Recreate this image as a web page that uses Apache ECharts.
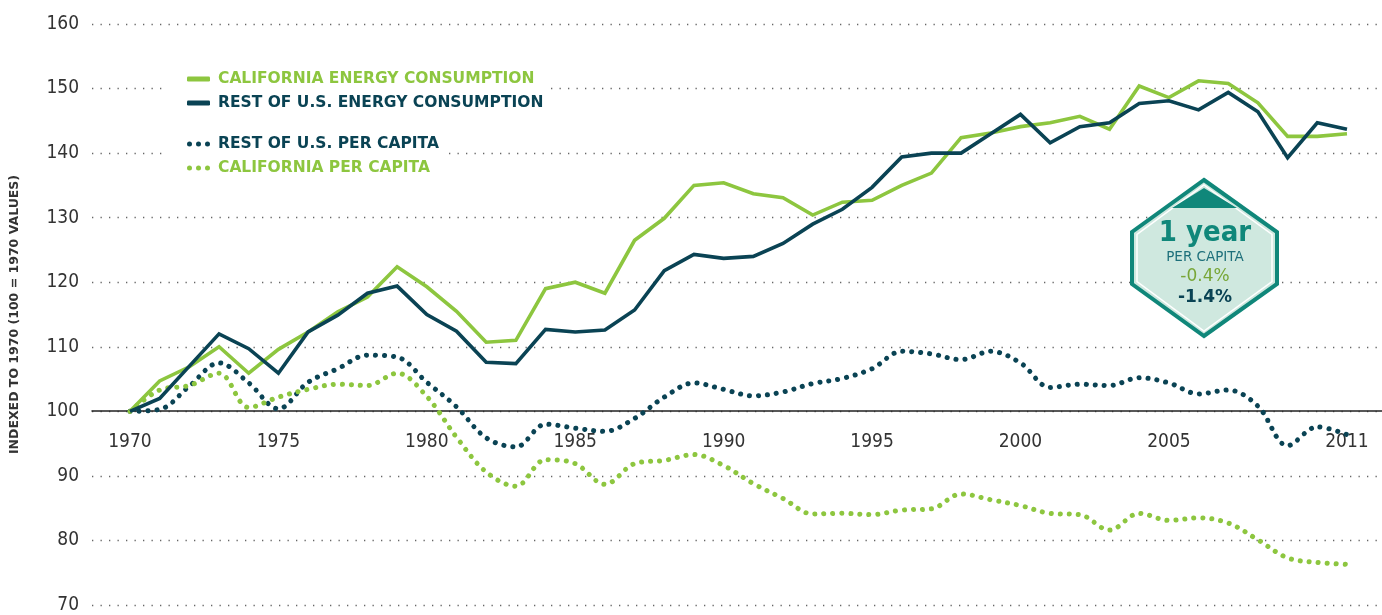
<!DOCTYPE html>
<html>
<head>
<meta charset="utf-8">
<script src="https://cdn.jsdelivr.net/npm/echarts@6/dist/echarts.min.js"></script>
<style>
html,body{margin:0;padding:0;background:#fff;}
#chart{width:1382px;height:615px;}
</style>
</head>
<body>
<div id="chart"></div>
<script>
const years = [1970,1971,1972,1973,1974,1975,1976,1977,1978,1979,1980,1981,1982,1983,1984,1985,1986,1987,1988,1989,1990,1991,1992,1993,1994,1995,1996,1997,1998,1999,2000,2001,2002,2003,2004,2005,2006,2007,2008,2009,2010,2011];
const tickYears = [1970,1975,1980,1985,1990,1995,2000,2005,2011];
const caEnergy = [100,104.7,106.9,110.0,105.9,109.6,112.3,115.4,117.7,122.4,119.3,115.5,110.7,111.0,119.0,120.0,118.3,126.5,129.9,135.0,135.4,133.7,133.1,130.4,132.4,132.7,135.0,136.9,142.4,143.1,144.1,144.7,145.7,143.7,150.4,148.6,151.2,150.8,147.8,142.6,142.6,143.0];
const usEnergy = [100,102.0,107.0,112.0,109.7,105.9,112.3,114.9,118.3,119.4,115.0,112.4,107.6,107.4,112.7,112.3,112.6,115.7,121.8,124.3,123.7,124.0,126.0,129.0,131.3,134.7,139.4,140.0,140.0,143.0,146.0,141.6,144.1,144.7,147.7,148.1,146.7,149.4,146.4,139.3,144.7,143.7];
const usPerCapita = [100,100.3,103.9,107.5,104.4,100.4,104.5,106.6,108.7,108.4,104.5,100.7,95.9,94.5,98.0,97.4,96.9,98.9,102.2,104.4,103.4,102.4,103.0,104.3,105.1,106.6,109.3,108.9,108.0,109.3,107.5,103.7,104.2,104.0,105.2,104.4,102.7,103.3,100.8,94.7,97.6,96.4];
const caPerCapita = [100,103.3,104.0,105.9,100.6,102.2,103.4,104.2,104.0,105.9,102.3,96.0,90.6,88.4,92.5,91.9,88.7,91.9,92.4,93.3,91.6,88.8,86.5,84.1,84.2,84.0,84.7,84.9,87.2,86.3,85.4,84.2,84.0,81.6,84.2,83.1,83.5,82.7,80.1,77.3,76.6,76.3];

const GREEN = '#8dc63f';
const DARK = '#0a4354';
const TEAL = '#10877a';
const pair = arr => years.map((y, i) => [y, arr[i]]);
const numFont = '"DejaVu Sans Condensed","DejaVu Sans",sans-serif';
const legFont = '"DejaVu Sans",sans-serif';
const dotsIcon = 'path://M0,2.5a2.5,2.5 0 1,0 5,0a2.5,2.5 0 1,0 -5,0z M9,2.5a2.5,2.5 0 1,0 5,0a2.5,2.5 0 1,0 -5,0z M18,2.5a2.5,2.5 0 1,0 5,0a2.5,2.5 0 1,0 -5,0z';

const chart = echarts.init(document.getElementById('chart'), null, {renderer: 'canvas'});
const option = {
  animation: false,
  backgroundColor: '#fff',
  grid: {left: 92, right: 0, top: 24, bottom: 10, containLabel: false},
  xAxis: {
    type: 'value', min: 1968.72, max: 2012.18,
    offset: -194,
    axisLine: {show: true, onZero: false, lineStyle: {color: '#222', width: 1.5}},
    axisTick: {show: false},
    splitLine: {show: false},
    axisLabel: {customValues: tickYears, formatter: v => String(v), margin: 22,
      fontFamily: numFont, fontWeight: 'normal condensed', fontSize: 19, color: '#333'}
  },
  yAxis: {
    type: 'value', min: 70, max: 160, interval: 10,
    name: 'INDEXED TO 1970 (100 = 1970 VALUES)', nameLocation: 'middle', nameRotate: 90, nameGap: 71,
    nameTextStyle: {fontFamily: legFont, fontWeight: 'bold', fontSize: 12.5, color: '#333'},
    axisLine: {show: false}, axisTick: {show: false},
    axisLabel: {margin: 13, fontFamily: numFont, fontWeight: 'normal condensed', fontSize: 19, color: '#333'},
    splitLine: {show: true, lineStyle: {color: '#666', width: 1.3, type: [1.3, 7.2]}}
  },
  legend: [
    {
      data: [{name: 'CALIFORNIA ENERGY CONSUMPTION', icon: 'roundRect', textStyle: {color: GREEN}},
             {name: 'REST OF U.S. ENERGY CONSUMPTION', icon: 'roundRect', textStyle: {color: DARK}}],
      orient: 'vertical', left: 165, top: 65, itemGap: 6, itemWidth: 23, itemHeight: 5,
      backgroundColor: '#fff', padding: [5, 4, 5, 22],
      textStyle: {fontFamily: legFont, fontSize: 15.5, fontWeight: 'bold', lineHeight: 18, padding: [0, 0, 0, 3]}
    },
    {
      data: [{name: 'REST OF U.S. PER CAPITA', icon: dotsIcon, itemStyle: {color: DARK}, textStyle: {color: DARK}},
             {name: 'CALIFORNIA PER CAPITA', icon: dotsIcon, itemStyle: {color: GREEN}, textStyle: {color: GREEN}}],
      orient: 'vertical', left: 165, top: 130, itemGap: 6, itemWidth: 23, itemHeight: 5,
      backgroundColor: '#fff', padding: [5, 4, 5, 22],
      textStyle: {fontFamily: legFont, fontSize: 15.5, fontWeight: 'bold', lineHeight: 18, padding: [0, 0, 0, 3]}
    }
  ],
  series: [
    {name: 'REST OF U.S. PER CAPITA', type: 'line', data: pair(usPerCapita), symbol: 'none', smooth: 0.35,
      color: DARK, lineStyle: {color: DARK, width: 5, type: [0.1, 8.9], cap: 'round'}},
    {name: 'CALIFORNIA PER CAPITA', type: 'line', data: pair(caPerCapita), symbol: 'none', smooth: 0.35,
      color: GREEN, lineStyle: {color: GREEN, width: 5, type: [0.1, 8.9], cap: 'round'}},
    {name: 'CALIFORNIA ENERGY CONSUMPTION', type: 'line', data: pair(caEnergy), symbol: 'none',
      color: GREEN, lineStyle: {color: GREEN, width: 3.6, join: 'miter'}},
    {name: 'REST OF U.S. ENERGY CONSUMPTION', type: 'line', data: pair(usEnergy), symbol: 'none',
      color: DARK, lineStyle: {color: DARK, width: 3.6, join: 'miter'}}
  ],
  graphic: [
    {type: 'polygon', z: 100, shape: {points: [[1204,180],[1277,232],[1277,284],[1204,336],[1132,284],[1132,232]]},
      style: {fill: '#cfe8df', stroke: TEAL, lineWidth: 4}},
    {type: 'polygon', z: 101, shape: {points: [[1204,185],[1272,234.5],[1272,281.5],[1204,331],[1137,281.5],[1137,234.5]]},
      style: {fill: 'none', stroke: '#fff', lineWidth: 1.5}},
    {type: 'polygon', z: 102, shape: {points: [[1204,188],[1237,208],[1172,208]]},
      style: {fill: TEAL}},
    {type: 'text', z: 103, x: 1205, y: 233, style: {text: '1 year', fill: TEAL, font: 'bold condensed 29px ' + numFont, align: 'center', verticalAlign: 'middle'}},
    {type: 'text', z: 103, x: 1205, y: 257, style: {text: 'PER CAPITA', fill: '#1d6f7a', font: '500 13.5px ' + legFont, align: 'center', verticalAlign: 'middle'}},
    {type: 'text', z: 103, x: 1205, y: 277, style: {text: '-0.4%', fill: '#78a637', font: '500 17px ' + legFont, align: 'center', verticalAlign: 'middle'}},
    {type: 'text', z: 103, x: 1205, y: 298, style: {text: '-1.4%', fill: DARK, font: 'bold 17px ' + legFont, align: 'center', verticalAlign: 'middle'}}
  ]
};
chart.setOption(option);
</script>
</body>
</html>
